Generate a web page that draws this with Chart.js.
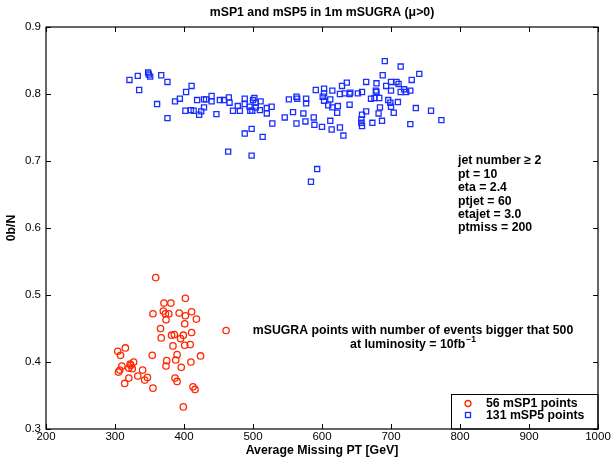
<!DOCTYPE html>
<html><head><meta charset="utf-8">
<script src="https://cdn.jsdelivr.net/npm/chart.js@4/dist/chart.umd.min.js"></script>
<style>html,body{margin:0;padding:0;background:#fff}</style>
</head><body>
<canvas id="c" width="612" height="458"></canvas>
<script>
const titleText = 'mSP1 and mSP5 in 1m mSUGRA (\u03BC>0)';
const xTitle = 'Average Missing PT [GeV]';
const yTitle = '0b/N';
const xTicks = [200, 300, 400, 500, 600, 700, 800, 900, 1000];
const yTicks = [0.3, 0.4, 0.5, 0.6, 0.7, 0.8, 0.9];
const legendLabels = ['56 mSP1 points', '131 mSP5 points'];
const cutLines = ['jet number \u2265 2', 'pt = 10', 'eta = 2.4', 'ptjet = 60', 'etajet = 3.0', 'ptmiss = 200'];
const noteLine1 = 'mSUGRA points with number of events bigger that 500';
const noteLine2 = 'at luminosity = 10fb';
const noteSup = '\u22121';

const msp1X = [359,371,381,402,355,370,373,378,393,402,411,418,374,401,366,461,411,367,382,386,399,395,384,401,409,315,304,308,354,390,424,388,375,410,374,396,322,327,310,320,325,307,305,340,333,347,343,320,314,387,390,355,413,416,399,323];
const msp1Y = [0.526,0.488,0.488,0.495,0.472,0.476,0.472,0.472,0.473,0.469,0.475,0.464,0.463,0.457,0.450,0.447,0.444,0.436,0.440,0.441,0.440,0.435,0.424,0.425,0.426,0.421,0.416,0.410,0.410,0.411,0.409,0.403,0.402,0.400,0.394,0.392,0.397,0.400,0.394,0.391,0.390,0.388,0.385,0.388,0.379,0.377,0.373,0.376,0.368,0.376,0.371,0.361,0.363,0.359,0.333,0.395];

const msp5X = [321,333,348,351,367,376,335,411,403,394,387,361,376,402,410,414,422,425,429,419,429,432,440,440,447,452,458,465,466,478,471,481,488,488,495,496,499,502,504,504,511,510,520,520,527,528,488,498,514,464,498,546,552,558,563,564,563,573,576,588,589,600,
691,714,688,741,730,664,679,636,629,700,708,711,693,591,603,615,603,626,633,640,652,658,678,679,714,719,722,728,577,577,601,603,612,671,683,696,699,710,609,615,623,640,684,700,622,664,658,682,704,736,758,773,728,612,614,626,631,657,657,658,673,687,593,584,
349,500,641,700,676];
const msp5Y = [0.821,0.827,0.832,0.826,0.828,0.818,0.806,0.812,0.803,0.793,0.789,0.785,0.764,0.775,0.776,0.775,0.769,0.774,0.780,0.791,0.792,0.792,0.797,0.789,0.770,0.791,0.791,0.795,0.787,0.782,0.775,0.775,0.793,0.785,0.781,0.775,0.775,0.794,0.787,0.780,0.789,0.776,0.779,0.771,0.781,0.756,0.741,0.748,0.736,0.714,0.708,0.765,0.792,0.773,0.796,0.793,0.756,0.771,0.759,0.765,0.754,0.751,
0.849,0.841,0.828,0.830,0.821,0.818,0.816,0.817,0.812,0.818,0.818,0.815,0.812,0.806,0.808,0.805,0.801,0.800,0.801,0.800,0.801,0.803,0.805,0.803,0.803,0.807,0.803,0.805,0.793,0.786,0.796,0.790,0.792,0.793,0.794,0.791,0.787,0.788,0.783,0.780,0.782,0.784,0.780,0.781,0.772,0.774,0.769,0.771,0.772,0.779,0.775,0.761,0.755,0.760,0.747,0.750,0.738,0.762,0.757,0.752,0.757,0.760,0.688,0.669,
0.829,0.791,0.802,0.805,0.794];

const RED = 'rgb(255,40,0)';
const BLUE = 'rgb(25,45,255)';
const FONT = '"Liberation Sans", Arial, Helvetica, sans-serif';
const BOLD = 'bold 12.3px ' + FONT;
Chart.defaults.font.family = FONT;
Chart.defaults.color = '#000';

const deco = {
  id: 'deco',
  afterDraw(chart) {
    const {ctx, chartArea: a, scales: {x, y}} = chart;
    ctx.save();
    // annotations
    ctx.fillStyle = '#000';
    ctx.font = BOLD;
    ctx.textBaseline = 'middle';
    ctx.textAlign = 'left';
    cutLines.forEach((t, i) => ctx.fillText(t, 458, 161 + 13.4 * i));
    ctx.textAlign = 'center';
    ctx.fillText(noteLine1, 413, 331);
    ctx.textAlign = 'left';
    const w2 = ctx.measureText(noteLine2).width;
    ctx.font = 'bold 8.5px ' + FONT;
    const ws = ctx.measureText(noteSup).width;
    const sx = 413 - (w2 + ws + 1) / 2;
    ctx.font = BOLD;
    ctx.fillText(noteLine2, sx, 344.5);
    ctx.font = 'bold 8.5px ' + FONT;
    ctx.fillText(noteSup, sx + w2 + 1, 340);
    // legend box
    const lx0 = 451.5, ly0 = 394.5, lx1 = a.right, ly1 = a.bottom;
    ctx.fillStyle = '#fff';
    ctx.fillRect(lx0, ly0, lx1 - lx0, ly1 - ly0);
    ctx.strokeStyle = '#000';
    ctx.lineWidth = 1;
    ctx.strokeRect(lx0, ly0, lx1 - lx0, ly1 - ly0);
    ctx.lineWidth = 1.3;
    ctx.strokeStyle = RED;
    ctx.beginPath(); ctx.arc(468, 403.5, 3, 0, Math.PI * 2); ctx.stroke();
    ctx.strokeStyle = BLUE;
    ctx.strokeRect(465.5, 412.5, 5, 5);
    ctx.fillStyle = '#000';
    ctx.font = BOLD;
    ctx.textAlign = 'left';
    ctx.fillText(legendLabels[0], 486, 403.5);
    ctx.fillText(legendLabels[1], 486, 415.5);
    // frame
    ctx.strokeStyle = '#000';
    ctx.lineWidth = 1.2;
    ctx.strokeRect(a.left, a.top, a.right - a.left, a.bottom - a.top);
    // inward ticks
    ctx.lineWidth = 1;
    ctx.beginPath();
    xTicks.forEach(v => {
      const px = Math.round(x.getPixelForValue(v)) + 0.5;
      ctx.moveTo(px, a.bottom); ctx.lineTo(px, a.bottom - 5);
      ctx.moveTo(px, a.top); ctx.lineTo(px, a.top + 5);
    });
    yTicks.forEach(v => {
      const py = Math.round(y.getPixelForValue(v)) + 0.5;
      ctx.moveTo(a.left, py); ctx.lineTo(a.left + 5, py);
      ctx.moveTo(a.right, py); ctx.lineTo(a.right - 5, py);
    });
    ctx.stroke();
    ctx.restore();
  }
};

new Chart(document.getElementById('c'), {
  type: 'scatter',
  data: {
    datasets: [
      {label: legendLabels[0], data: msp1X.map((v, i) => ({x: v, y: msp1Y[i]})),
       pointStyle: 'circle', pointRadius: 3.2, pointBorderWidth: 1.3,
       borderColor: RED, backgroundColor: 'rgba(0,0,0,0)'},
      {label: legendLabels[1], data: msp5X.map((v, i) => ({x: v, y: msp5Y[i]})),
       pointStyle: 'rect', pointRadius: 3.6, pointBorderWidth: 1.3,
       borderColor: BLUE, backgroundColor: 'rgba(0,0,0,0)'}
    ]
  },
  options: {
    responsive: false, animation: false, devicePixelRatio: 1,
    layout: {padding: {left: 0, right: 14, top: 0, bottom: 0}},
    plugins: {
      legend: {display: false}, tooltip: {enabled: false},
      title: {display: true, text: titleText, fullSize: false, color: '#000',
              font: {size: 12.3, weight: 'bold'}, padding: {top: 5, bottom: 7.24}}
    },
    scales: {
      x: {
        type: 'linear', min: 200, max: 1000,
        afterBuildTicks: s => { s.ticks = xTicks.map(v => ({value: v})); },
        afterFit: s => { s.height = 29; },
        grid: {display: false, drawTicks: false}, border: {display: false},
        ticks: {color: '#000', font: {size: 11.5}, padding: 1, maxRotation: 0, autoSkip: false, callback: v => String(v)},
        title: {display: true, text: xTitle, color: '#000', font: {size: 12.3, weight: 'bold'}, padding: {top: 0, bottom: 0}}
      },
      y: {
        type: 'linear', min: 0.3, max: 0.9,
        afterBuildTicks: s => { s.ticks = yTicks.map(v => ({value: v})); },
        afterFit: s => { s.width = 46; },
        grid: {display: false, drawTicks: false}, border: {display: false},
        ticks: {color: '#000', font: {size: 11.5}, padding: 5, autoSkip: false, callback: v => Number(v).toFixed(1)},
        title: {display: true, text: yTitle, color: '#000', font: {size: 12.3, weight: 'bold'}, padding: {top: 4.6, bottom: 0}}
      }
    }
  },
  plugins: [deco]
});
</script>
</body></html>
